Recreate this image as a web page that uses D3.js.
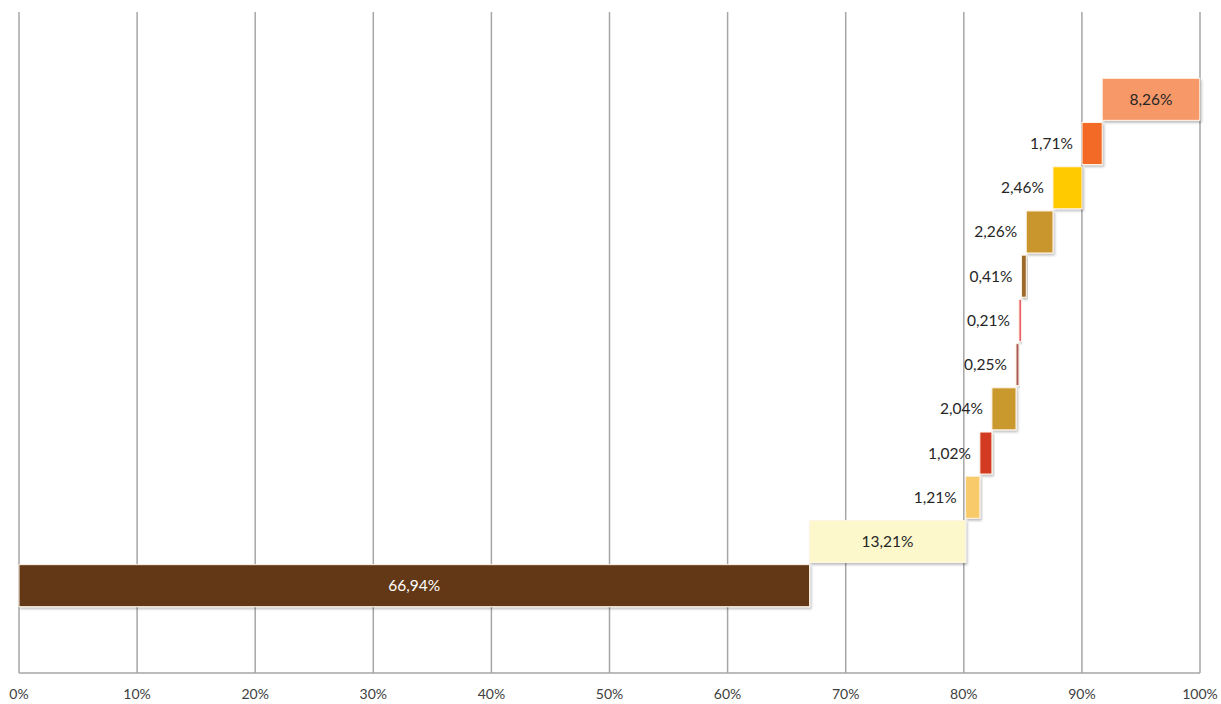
<!DOCTYPE html>
<html>
<head>
<meta charset="utf-8">
<script src="https://cdn.jsdelivr.net/npm/d3@7"></script>
<style>
  body { margin: 0; background: #fff; }
  text { font-family: Lato, "Open Sans", sans-serif; }
</style>
</head>
<body>
<div id="chart"></div>
<script>
// waterfall parts, bottom to top
var categories = ['c1', 'c2', 'c3', 'c4', 'c5', 'c6', 'c7', 'c8', 'c9', 'c10', 'c11', 'c12'];
var values = [66.94, 13.21, 1.21, 1.02, 2.04, 0.25, 0.21, 0.41, 2.26, 2.46, 1.71, 8.26];
var colors = ['#633814', '#FCF8CC', '#F9CA6A', '#D23A22', '#C9992F', '#A85A55', '#E8505F',
              '#9C6A2A', '#C9962F', '#FFCB05', '#F26A25', '#F79868'];
var xTicks = [0, 10, 20, 30, 40, 50, 60, 70, 80, 90, 100];

var W = 1221, H = 704;
var margin = { top: 12, right: 21, bottom: 31, left: 19 },
    width = W - margin.left - margin.right,
    height = H - margin.top - margin.bottom;

// running start of each piece
var start = 0;
var rows = values.map(function(v, i) {
  var r = { cat: categories[i], v: v, x0: start, x1: start + v, color: colors[i] };
  start += v;
  return r;
});

var svg = d3.select('#chart').append('svg')
  .attr('width', W).attr('height', H);

var defs = svg.append('defs');
var f = defs.append('filter').attr('id', 'shadow')
  .attr('x', '-10%').attr('y', '-20%').attr('width', '130%').attr('height', '150%');
f.append('feDropShadow').attr('dx', 1.5).attr('dy', 2).attr('stdDeviation', 1.2)
  .attr('flood-color', '#000').attr('flood-opacity', 0.25);

var g = svg.append('g')
  .attr('transform', 'translate(' + margin.left + ',' + margin.top + ')');

var x = d3.scaleLinear().domain([0, 100]).range([0, width]);

// reversed so the first piece sits at the bottom
var y = d3.scaleBand()
  .domain(categories.slice().reverse())
  .range([0, height])
  .paddingInner(0.05)
  .paddingOuter(1.5);

// grid
g.selectAll('.grid').data(xTicks).enter().append('line')
  .attr('x1', function(d) { return x(d); })
  .attr('x2', function(d) { return x(d); })
  .attr('y1', 0).attr('y2', height)
  .attr('stroke', '#A6A6A6').attr('stroke-width', 1.5);

// axis baseline
g.append('line')
  .attr('x1', 0).attr('x2', width)
  .attr('y1', height).attr('y2', height)
  .attr('stroke', '#A6A6A6').attr('stroke-width', 1.5);

// tick labels
g.selectAll('.tick-label').data(xTicks).enter().append('text')
  .attr('x', function(d) { return x(d); })
  .attr('y', height + 26)
  .attr('text-anchor', 'middle')
  .attr('font-size', 14)
  .attr('fill', '#404040')
  .text(function(d) { return d + '%'; });

// bars
g.selectAll('.bar').data(rows).enter().append('rect')
  .attr('x', function(d) { return x(d.x0); })
  .attr('y', function(d) { return y(d.cat); })
  .attr('width', function(d) { return Math.max(x(d.x1) - x(d.x0), 1.5); })
  .attr('height', y.bandwidth())
  .attr('fill', function(d) { return d.color; })
  .attr('stroke', '#FFF4E6').attr('stroke-width', 1)
  .attr('filter', 'url(#shadow)');

var fmt = function(v) { return v.toFixed(2).replace('.', ',') + '%'; };

// labels: inside for big pieces, left of the bar otherwise
g.selectAll('.lbl').data(rows).enter().append('text')
  .attr('x', function(d) {
    return d.v > 5 ? (x(d.x0) + x(d.x1)) / 2 : x(d.x0) - 9;
  })
  .attr('y', function(d) { return y(d.cat) + y.bandwidth() / 2 + 5.5; })
  .attr('text-anchor', function(d) { return d.v > 5 ? 'middle' : 'end'; })
  .attr('font-size', 15.5)
  .attr('fill', function(d) { return d.v > 50 ? '#FFFFFF' : '#262626'; })
  .text(function(d) { return fmt(d.v); });
</script>
</body>
</html>
